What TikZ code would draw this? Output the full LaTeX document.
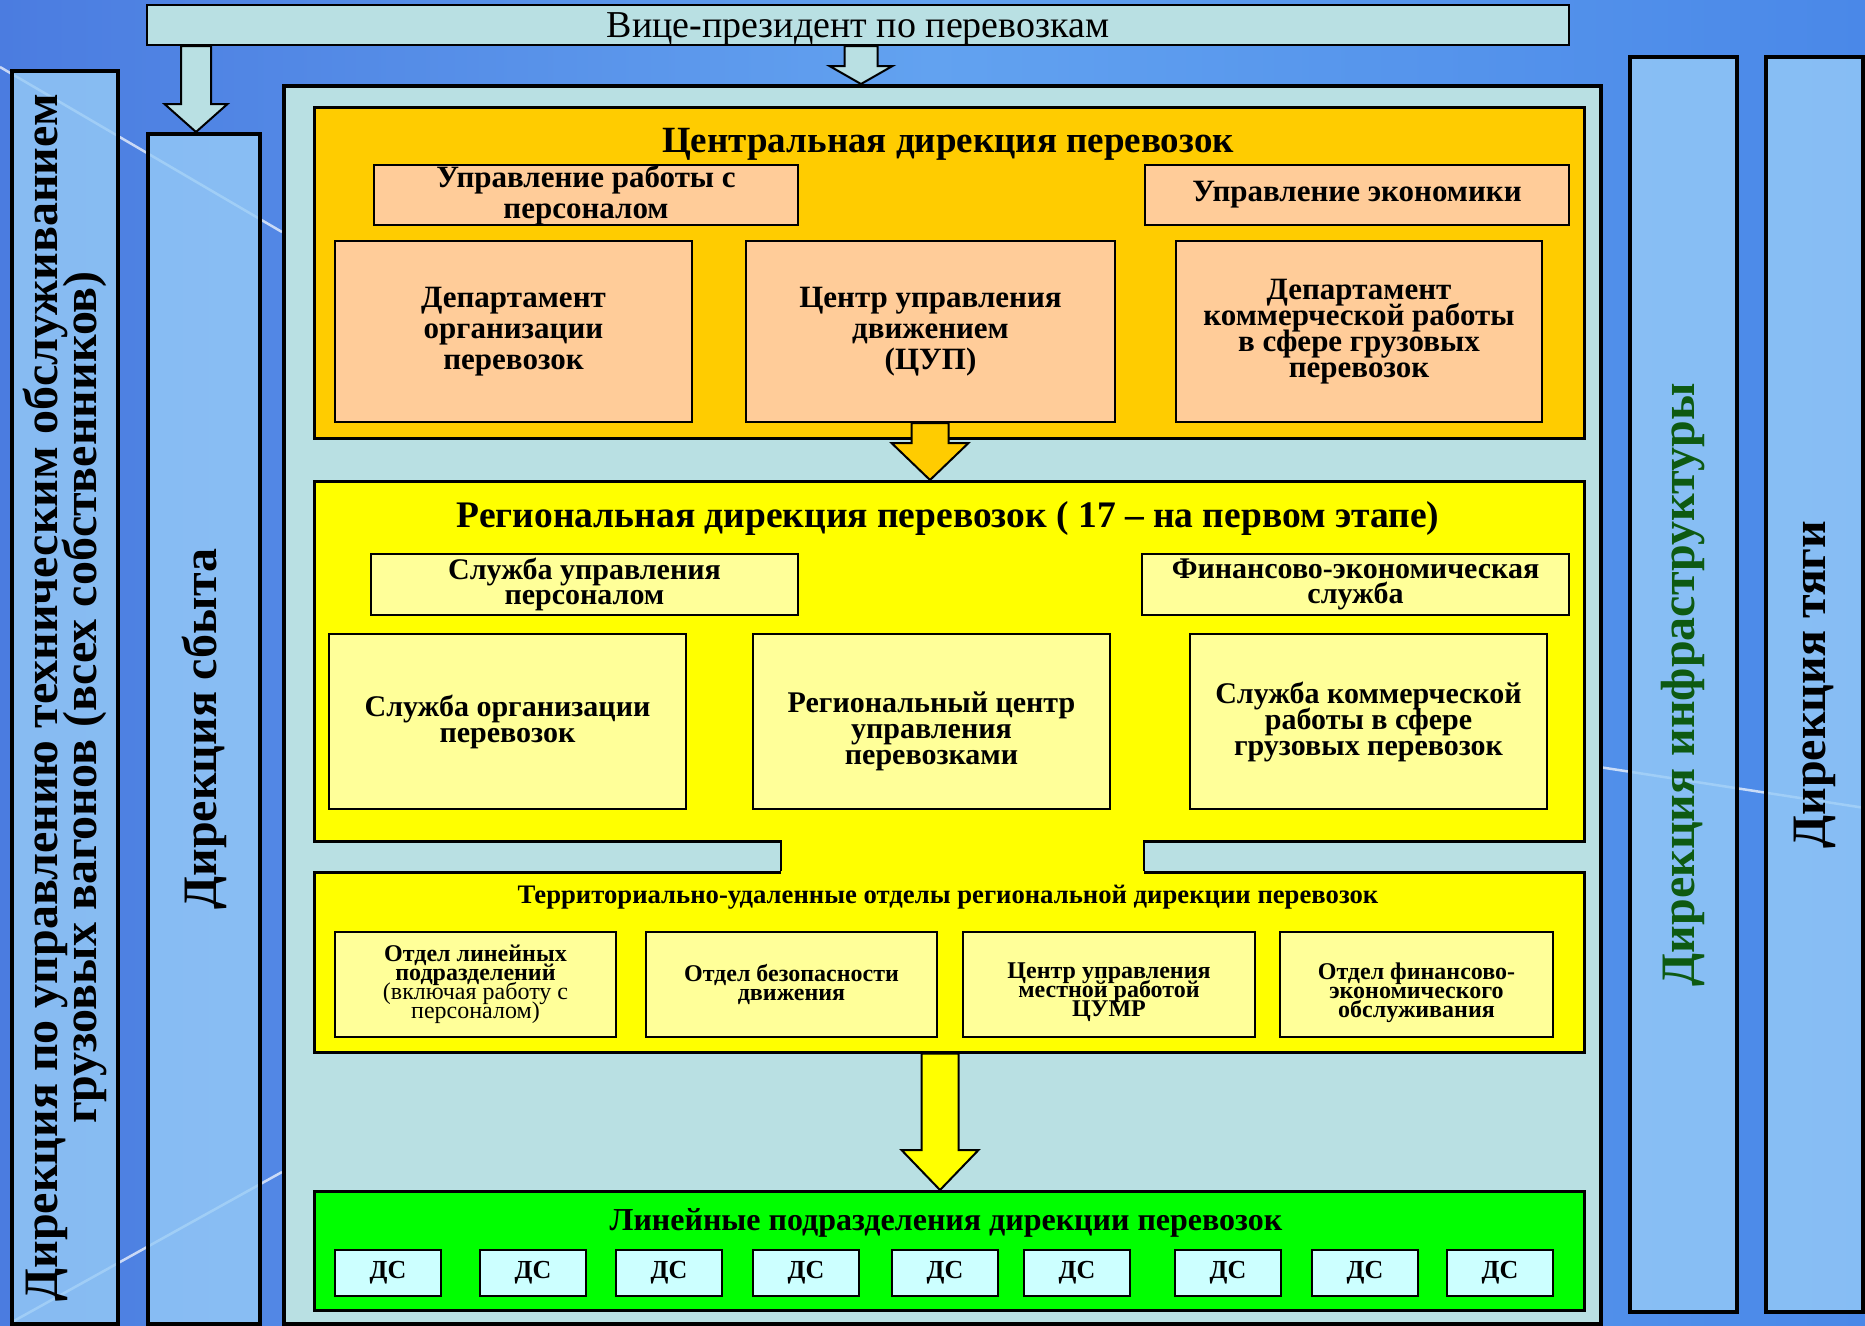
\documentclass[tikz,border=0pt]{standalone}
\usepackage{fontspec}
\setmainfont{Liberation Serif}
\usetikzlibrary{calc}
\definecolor{bgL}{HTML}{4B7CE0}
\definecolor{bgM}{HTML}{62A2F0}
\definecolor{bgR}{HTML}{4A88E8}
\definecolor{sidefill}{HTML}{96CBF7}
\definecolor{mainfill}{HTML}{B9E0E3}
\definecolor{orangec}{HTML}{FFCC00}
\definecolor{peach}{HTML}{FFCC99}
\definecolor{yel}{HTML}{FFFF00}
\definecolor{lyel}{HTML}{FFFF99}
\definecolor{grn}{HTML}{00FF00}
\definecolor{dsfill}{HTML}{CCFFFF}
\definecolor{dgreen}{HTML}{0E5A12}
\newcommand{\fsz}[2]{\fontsize{#1}{#2}\selectfont\lineskiplimit=-100pt\lineskip=0pt}
\newcommand{\blockarrow}[6]{\draw[barrow,#1] let \p1=#2, \p2=#3 in
  (\x1-#4pt,\y1) -- (\x1-#4pt,\y2+#6pt) -- (\x1-#5pt,\y2+#6pt) -- (\x1,\y2)
  -- (\x1+#5pt,\y2+#6pt) -- (\x1+#4pt,\y2+#6pt) -- (\x1+#4pt,\y1) -- cycle;}
\begin{document}
\begin{tikzpicture}[x=1pt,y=-1pt,
  sidebox/.style={draw=black,line width=4pt,fill=sidefill,fill opacity=0.8,draw opacity=1,anchor=north west,inner sep=0pt},
  bigbox/.style={draw=black,line width=2.5pt,anchor=north west,inner sep=0pt},
  ibox/.style={draw=black,line width=2pt,anchor=north west,inner sep=0pt,align=center},
  txt/.style={inner sep=0pt,align=center},
  vtxt/.style={inner sep=0pt,align=center,rotate=90,font=\fsz{48}{39}\bfseries},
  barrow/.style={draw=black,line width=2pt,line join=miter},
  streak/.style={white,line width=2.5pt,opacity=0.7}]
\useasboundingbox (0,0) rectangle (1865,1325);
% background
\shade[left color=bgL,right color=bgR,middle color=bgM] (0,0) rectangle (1865,1325);
\draw[streak] (0,67) -- (282,232);
\draw[streak] (12,1322) -- (282,1172);
\draw[streak] (1599,767) -- (1865,808);
% side boxes
\node[sidebox,minimum width=106pt,minimum height=1253pt] (lb1) at (10,69) {};
\node[sidebox,minimum width=112pt,minimum height=1190pt] (lb2) at (146,132) {};
\node[sidebox,minimum width=107pt,minimum height=1255pt] (rb1) at (1628,55) {};
\node[sidebox,minimum width=97pt,minimum height=1255pt] (rb2) at (1764,55) {};
\node[vtxt] (lb1t) at (lb1.center) {Дирекция по управлению техническим обслуживанием\\грузовых вагонов (всех собственников)};
\node[vtxt] (lb2t) at (lb2.center) {Дирекция сбыта};
\node[vtxt,text=dgreen] (rb1t) at (rb1.center) {Дирекция инфраструктуры};
\node[vtxt] (rb2t) at (rb2.center) {Дирекция тяги};
% vice president
\node[ibox,fill=mainfill,minimum width=1422pt,minimum height=40pt] (vp) at (146,4) {};
\node[txt,font=\fsz{38}{40}] (vpt) at ($(vp.center)+(0,4)$) {Вице-президент по перевозкам};
% main box
\node[bigbox,line width=4pt,fill=mainfill,minimum width=1317pt,minimum height=1238pt] (main) at (282,84) {};
% central directorate
\node[bigbox,fill=orangec,minimum width=1270pt,minimum height=331pt] (cen) at (313,106) {};
\node[txt,font=\fsz{37}{40}\bfseries] (cent) at (948,144) {Центральная дирекция перевозок};
\node[ibox,fill=peach,minimum width=424pt,minimum height=60pt,font=\fsz{31}{31}\bfseries] (upr1) at (373,164) {Управление работы с\\персоналом};
\node[ibox,fill=peach,minimum width=424pt,minimum height=60pt,font=\fsz{31}{31}\bfseries] (upr2) at (1144,164) {Управление экономики};
\node[ibox,fill=peach,minimum width=357pt,minimum height=181pt,font=\fsz{31}{31}\bfseries] (d1) at (334,240) {Департамент\\организации\\перевозок};
\node[ibox,fill=peach,minimum width=369pt,minimum height=181pt,font=\fsz{31}{31}\bfseries] (d2) at (745,240) {Центр управления\\движением\\(ЦУП)};
\node[ibox,fill=peach,minimum width=366pt,minimum height=181pt,font=\fsz{31}{26}\bfseries] (d3) at (1175,240) {Департамент\\коммерческой работы\\в сфере грузовых\\перевозок};
% regional directorate
\node[bigbox,fill=yel,minimum width=1270pt,minimum height=360pt] (reg) at (313,480) {};
\node[bigbox,fill=yel,minimum width=1270pt,minimum height=180pt] (ter) at (313,871) {};
\fill[yel] (781,837) rectangle (1144,874);
\draw[black,line width=2.5pt] (781,840) -- (781,871) (1144,840) -- (1144,871);
\node[txt,font=\fsz{37.5}{40}\bfseries] (regt) at (948,518) {Региональная дирекция перевозок ( 17 – на первом этапе)};
\node[ibox,fill=lyel,minimum width=427pt,minimum height=61pt,font=\fsz{30}{25}\bfseries] (s1) at (370,553) {Служба управления\\персоналом};
\node[ibox,fill=lyel,minimum width=427pt,minimum height=61pt,font=\fsz{30}{25}\bfseries] (s2) at (1141,553) {Финансово-экономическая\\служба};
\node[ibox,fill=lyel,minimum width=357pt,minimum height=175pt,font=\fsz{30}{26}\bfseries] (r1) at (328,633) {Служба организации\\перевозок};
\node[ibox,fill=lyel,minimum width=357pt,minimum height=175pt] (r2) at (752,633) {};
\node[txt,font=\fsz{30}{26}\bfseries] (r2t) at ($(r2.center)+(0,10)$) {Региональный центр\\управления\\перевозками};
\node[ibox,fill=lyel,minimum width=357pt,minimum height=175pt,font=\fsz{30}{26}\bfseries] (r3) at (1189,633) {Служба коммерческой\\работы в сфере\\грузовых перевозок};
% territorial departments
\node[txt,font=\fsz{26.7}{30}\bfseries] (tert) at (948,897) {Территориально-удаленные отделы региональной дирекции перевозок};
\node[ibox,fill=lyel,minimum width=281pt,minimum height=105pt,font=\fsz{24}{19}\bfseries] (t1) at (334,931) {Отдел линейных\\подразделений\\{\mdseries (включая работу с}\\{\mdseries персоналом)}};
\node[ibox,fill=lyel,minimum width=291pt,minimum height=105pt,font=\fsz{24}{19}\bfseries] (t2) at (645,931) {Отдел безопасности\\движения};
\node[ibox,fill=lyel,minimum width=292pt,minimum height=105pt] (t3) at (962,931) {};
\node[txt,font=\fsz{24}{19}\bfseries] (t3t) at ($(t3.center)+(0,8)$) {Центр управления\\местной работой\\ЦУМР};
\node[ibox,fill=lyel,minimum width=273pt,minimum height=105pt] (t4) at (1279,931) {};
\node[txt,font=\fsz{24}{19}\bfseries] (t4t) at ($(t4.center)+(0,8)$) {Отдел финансово-\\экономического\\обслуживания};
% line units
\node[bigbox,fill=grn,minimum width=1270pt,minimum height=119pt] (lin) at (313,1190) {};
\node[txt,font=\fsz{32}{34}\bfseries] (lint) at (946,1223) {Линейные подразделения дирекции перевозок};
\foreach \i/\xx in {1/334,2/479,3/615,4/752,5/891,6/1023,7/1174,8/1311,9/1446}
  \node[ibox,fill=dsfill,minimum width=106pt,minimum height=46pt,font=\fsz{26}{28}\bfseries] (ds\i) at (\xx,1249) {\raisebox{-2pt}{ДС}};
% block arrows
\blockarrow{fill=mainfill}{(196,0 |- vp.south)}{(196,0 |- lb2.north)}{15}{31.5}{28}
\blockarrow{fill=mainfill}{(861,0 |- vp.south)}{(861,0 |- main.north)}{16.5}{31.5}{18}
\blockarrow{fill=orangec}{(930,0 |- d2.south)}{(930,0 |- reg.north)}{18.5}{38.5}{37}
\blockarrow{fill=yel}{(940,0 |- ter.south)}{(940,0 |- lin.north)}{18.5}{38.5}{40}
\end{tikzpicture}
\end{document}
